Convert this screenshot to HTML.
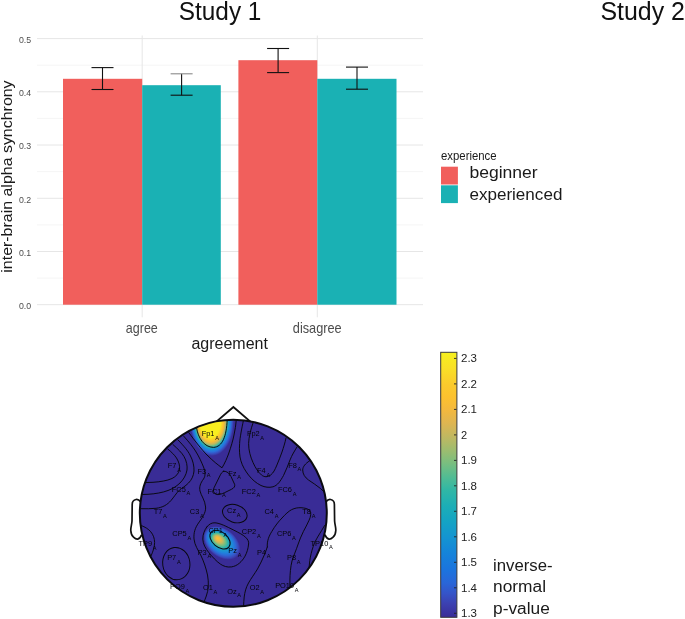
<!DOCTYPE html>
<html><head><meta charset="utf-8"><title>Figure</title>
<style>html,body{margin:0;padding:0;background:#fff;}body{width:685px;height:619px;overflow:hidden;position:relative;}svg{will-change:transform;position:absolute;left:0;top:0;display:block;}text{font-family:"Liberation Sans", sans-serif;}</style>
</head><body>
<svg width="685" height="619" viewBox="0 0 685 619">
<defs>
<linearGradient id="cb" x1="0" y1="0" x2="0" y2="1">
<stop offset="0.00" stop-color="#F6F01D"/>
<stop offset="0.06" stop-color="#F9E027"/>
<stop offset="0.12" stop-color="#FBCB2C"/>
<stop offset="0.17" stop-color="#FCC12F"/>
<stop offset="0.22" stop-color="#F2B83F"/>
<stop offset="0.27" stop-color="#DDB552"/>
<stop offset="0.32" stop-color="#BFB861"/>
<stop offset="0.37" stop-color="#9DBC6F"/>
<stop offset="0.42" stop-color="#78BE80"/>
<stop offset="0.47" stop-color="#52BC93"/>
<stop offset="0.52" stop-color="#30B7A5"/>
<stop offset="0.58" stop-color="#1CAEB6"/>
<stop offset="0.64" stop-color="#14A3C4"/>
<stop offset="0.70" stop-color="#1494D1"/>
<stop offset="0.76" stop-color="#1583DA"/>
<stop offset="0.82" stop-color="#1B74DE"/>
<stop offset="0.87" stop-color="#2966D8"/>
<stop offset="0.91" stop-color="#3554C8"/>
<stop offset="0.95" stop-color="#3C40B0"/>
<stop offset="1.00" stop-color="#392D97"/>
</linearGradient>
<radialGradient id="h1" cx="0.5" cy="0.5" r="0.5" fx="0.43" fy="0.5">
<stop offset="0.00" stop-color="#F8EE1F"/>
<stop offset="0.47" stop-color="#F8EE1F"/>
<stop offset="0.53" stop-color="#FAD42A"/>
<stop offset="0.60" stop-color="#F6BB38"/>
<stop offset="0.66" stop-color="#C4B75E"/>
<stop offset="0.71" stop-color="#6FBE84"/>
<stop offset="0.76" stop-color="#22ACB7"/>
<stop offset="0.81" stop-color="#1A90D6"/>
<stop offset="0.88" stop-color="#2A70DC"/>
<stop offset="0.94" stop-color="#384CBE"/>
<stop offset="1.00" stop-color="#392C96"/>
</radialGradient>
<radialGradient id="h2" cx="0.5" cy="0.5" r="0.5" fx="0.34" fy="0.46">
<stop offset="0.00" stop-color="#FBC42D"/>
<stop offset="0.12" stop-color="#EFB844"/>
<stop offset="0.24" stop-color="#BDB862"/>
<stop offset="0.35" stop-color="#6FBE84"/>
<stop offset="0.45" stop-color="#2DB3AA"/>
<stop offset="0.55" stop-color="#1C9ACB"/>
<stop offset="0.68" stop-color="#1F84DC"/>
<stop offset="0.80" stop-color="#2E68D6"/>
<stop offset="0.91" stop-color="#3A4ABB"/>
<stop offset="1.00" stop-color="#392C96"/>
</radialGradient>
<clipPath id="hc"><circle cx="233.3" cy="513.3" r="93.5"/></clipPath>
</defs>
<text x="178.8" y="19.5" font-size="25" fill="#111" textLength="82.6" lengthAdjust="spacingAndGlyphs">Study 1</text>
<text x="600.4" y="19.5" font-size="25" fill="#111" textLength="84.5" lengthAdjust="spacingAndGlyphs">Study 2</text>
<line x1="37" x2="423" y1="278.1" y2="278.1" stroke="#F1F1F1" stroke-width="0.7"/>
<line x1="37" x2="423" y1="224.9" y2="224.9" stroke="#F1F1F1" stroke-width="0.7"/>
<line x1="37" x2="423" y1="171.6" y2="171.6" stroke="#F1F1F1" stroke-width="0.7"/>
<line x1="37" x2="423" y1="118.4" y2="118.4" stroke="#F1F1F1" stroke-width="0.7"/>
<line x1="37" x2="423" y1="65.2" y2="65.2" stroke="#F1F1F1" stroke-width="0.7"/>
<line x1="37" x2="423" y1="304.7" y2="304.7" stroke="#E6E6E6" stroke-width="1"/>
<line x1="37" x2="423" y1="251.5" y2="251.5" stroke="#E6E6E6" stroke-width="1"/>
<line x1="37" x2="423" y1="198.3" y2="198.3" stroke="#E6E6E6" stroke-width="1"/>
<line x1="37" x2="423" y1="145.0" y2="145.0" stroke="#E6E6E6" stroke-width="1"/>
<line x1="37" x2="423" y1="91.8" y2="91.8" stroke="#E6E6E6" stroke-width="1"/>
<line x1="37" x2="423" y1="38.6" y2="38.6" stroke="#E6E6E6" stroke-width="1"/>
<line x1="142.2" x2="142.2" y1="35.5" y2="317.3" stroke="#E6E6E6" stroke-width="1"/>
<line x1="317.3" x2="317.3" y1="35.5" y2="317.3" stroke="#E6E6E6" stroke-width="1"/>
<rect x="63.0" y="78.8" width="79.2" height="225.9" fill="#F15F5C"/>
<rect x="142.2" y="85.2" width="78.6" height="219.5" fill="#1AB1B4"/>
<rect x="238.4" y="60.2" width="78.9" height="244.5" fill="#F15F5C"/>
<rect x="317.3" y="78.8" width="79.2" height="225.9" fill="#1AB1B4"/>
<line x1="102.5" x2="102.5" y1="67.6" y2="89.5" stroke="#111" stroke-width="1.1"/>
<line x1="91.5" x2="113.5" y1="67.6" y2="67.6" stroke="#111" stroke-width="1.1"/>
<line x1="91.5" x2="113.5" y1="89.5" y2="89.5" stroke="#111" stroke-width="1.1"/>
<line x1="181.6" x2="181.6" y1="73.8" y2="95.2" stroke="#111" stroke-width="1.1"/>
<line x1="170.6" x2="192.6" y1="73.8" y2="73.8" stroke="#8a8a8a" stroke-width="1.1"/>
<line x1="170.6" x2="192.6" y1="95.2" y2="95.2" stroke="#111" stroke-width="1.1"/>
<line x1="278.1" x2="278.1" y1="48.5" y2="72.6" stroke="#111" stroke-width="1.1"/>
<line x1="267.1" x2="289.1" y1="48.5" y2="48.5" stroke="#111" stroke-width="1.1"/>
<line x1="267.1" x2="289.1" y1="72.6" y2="72.6" stroke="#111" stroke-width="1.1"/>
<line x1="357.0" x2="357.0" y1="67.1" y2="89.2" stroke="#111" stroke-width="1.1"/>
<line x1="346.0" x2="368.0" y1="67.1" y2="67.1" stroke="#111" stroke-width="1.1"/>
<line x1="346.0" x2="368.0" y1="89.2" y2="89.2" stroke="#111" stroke-width="1.1"/>
<text x="18.9" y="309.0" font-size="9.8" fill="#4D4D4D" textLength="12.2" lengthAdjust="spacingAndGlyphs">0.0</text>
<text x="18.9" y="255.8" font-size="9.8" fill="#4D4D4D" textLength="12.2" lengthAdjust="spacingAndGlyphs">0.1</text>
<text x="18.9" y="202.6" font-size="9.8" fill="#4D4D4D" textLength="12.2" lengthAdjust="spacingAndGlyphs">0.2</text>
<text x="18.9" y="149.3" font-size="9.8" fill="#4D4D4D" textLength="12.2" lengthAdjust="spacingAndGlyphs">0.3</text>
<text x="18.9" y="96.1" font-size="9.8" fill="#4D4D4D" textLength="12.2" lengthAdjust="spacingAndGlyphs">0.4</text>
<text x="18.9" y="42.9" font-size="9.8" fill="#4D4D4D" textLength="12.2" lengthAdjust="spacingAndGlyphs">0.5</text>
<text x="125.8" y="332.7" font-size="14.1" fill="#4D4D4D" textLength="32" lengthAdjust="spacingAndGlyphs">agree</text>
<text x="292.8" y="332.6" font-size="14.1" fill="#4D4D4D" textLength="48.9" lengthAdjust="spacingAndGlyphs">disagree</text>
<text x="191.4" y="349.4" font-size="17.3" fill="#1a1a1a" textLength="76.6" lengthAdjust="spacingAndGlyphs">agreement</text>
<text transform="translate(12,272.7) rotate(-90)" font-size="14.4" fill="#1a1a1a" textLength="192.3" lengthAdjust="spacingAndGlyphs">inter-brain alpha synchrony</text>
<text x="441" y="159.7" font-size="12.6" fill="#1a1a1a" textLength="55.6" lengthAdjust="spacingAndGlyphs">experience</text>
<rect x="441" y="166.7" width="16.9" height="17.8" fill="#F15F5C"/>
<rect x="441" y="185.3" width="16.9" height="17.8" fill="#1AB1B4"/>
<text x="469.4" y="177.7" font-size="15.8" fill="#1a1a1a" textLength="68.3" lengthAdjust="spacingAndGlyphs">beginner</text>
<text x="469.4" y="199.6" font-size="15.8" fill="#1a1a1a" textLength="93" lengthAdjust="spacingAndGlyphs">experienced</text>
<rect x="440.7" y="352.3" width="16.2" height="265" fill="url(#cb)" stroke="#3a3a3a" stroke-width="1"/>
<line x1="454" x2="456.5" y1="358.4" y2="358.4" stroke="#222" stroke-width="0.9"/>
<text x="461" y="362.3" font-size="11" fill="#222" textLength="16" lengthAdjust="spacingAndGlyphs">2.3</text>
<line x1="454" x2="456.5" y1="383.9" y2="383.9" stroke="#222" stroke-width="0.9"/>
<text x="461" y="387.8" font-size="11" fill="#222" textLength="16" lengthAdjust="spacingAndGlyphs">2.2</text>
<line x1="454" x2="456.5" y1="409.4" y2="409.4" stroke="#222" stroke-width="0.9"/>
<text x="461" y="413.3" font-size="11" fill="#222" textLength="16" lengthAdjust="spacingAndGlyphs">2.1</text>
<line x1="454" x2="456.5" y1="434.9" y2="434.9" stroke="#222" stroke-width="0.9"/>
<text x="461" y="438.8" font-size="11" fill="#222">2</text>
<line x1="454" x2="456.5" y1="460.4" y2="460.4" stroke="#222" stroke-width="0.9"/>
<text x="461" y="464.3" font-size="11" fill="#222" textLength="16" lengthAdjust="spacingAndGlyphs">1.9</text>
<line x1="454" x2="456.5" y1="485.8" y2="485.8" stroke="#222" stroke-width="0.9"/>
<text x="461" y="489.7" font-size="11" fill="#222" textLength="16" lengthAdjust="spacingAndGlyphs">1.8</text>
<line x1="454" x2="456.5" y1="511.3" y2="511.3" stroke="#222" stroke-width="0.9"/>
<text x="461" y="515.2" font-size="11" fill="#222" textLength="16" lengthAdjust="spacingAndGlyphs">1.7</text>
<line x1="454" x2="456.5" y1="536.8" y2="536.8" stroke="#222" stroke-width="0.9"/>
<text x="461" y="540.7" font-size="11" fill="#222" textLength="16" lengthAdjust="spacingAndGlyphs">1.6</text>
<line x1="454" x2="456.5" y1="562.3" y2="562.3" stroke="#222" stroke-width="0.9"/>
<text x="461" y="566.2" font-size="11" fill="#222" textLength="16" lengthAdjust="spacingAndGlyphs">1.5</text>
<line x1="454" x2="456.5" y1="587.8" y2="587.8" stroke="#222" stroke-width="0.9"/>
<text x="461" y="591.7" font-size="11" fill="#222" textLength="16" lengthAdjust="spacingAndGlyphs">1.4</text>
<line x1="454" x2="456.5" y1="613.3" y2="613.3" stroke="#222" stroke-width="0.9"/>
<text x="461" y="617.2" font-size="11" fill="#222" textLength="16" lengthAdjust="spacingAndGlyphs">1.3</text>
<text x="493" y="570.7" font-size="15.8" fill="#1a1a1a" textLength="59.6" lengthAdjust="spacingAndGlyphs">inverse-</text>
<text x="493" y="592.4" font-size="15.8" fill="#1a1a1a" textLength="53" lengthAdjust="spacingAndGlyphs">normal</text>
<text x="493" y="614" font-size="15.8" fill="#1a1a1a" textLength="56.8" lengthAdjust="spacingAndGlyphs">p-value</text>
<path d="M216.4 421.6 L233.4 407 L250.4 421.6" fill="none" stroke="#111" stroke-width="1.9" stroke-linejoin="miter"/>
<path d="M140.3 501.6 C139 499.6 137.5 499.3 136 499.5 C133.3 500 132.2 502 132.2 504.5 L132 521 C131.7 525 130.6 527.5 130.8 530.5 C131 534 132 536 133.5 537.2 C135 538.6 136.5 539.3 137.6 539.1 C139.2 538.8 140.3 538 141.8 534.7" fill="#fff" stroke="#111" stroke-width="1.7"/>
<path d="M326.3 501.6 C327.6 499.6 329.1 499.3 330.6 499.5 C333.3 500 334.4 502 334.4 504.5 L334.6 521 C334.9 525 336 527.5 335.8 530.5 C335.6 534 334.6 536 333.1 537.2 C331.6 538.6 330.1 539.3 329 539.1 C327.4 538.8 326.3 538 324.8 534.7" fill="#fff" stroke="#111" stroke-width="1.7"/>
<circle cx="233.3" cy="513.3" r="93.5" fill="#392C96"/>
<g clip-path="url(#hc)">
<ellipse cx="212" cy="421" rx="22" ry="35" fill="url(#h1)"/>
<g transform="translate(222,543) rotate(38)"><ellipse cx="0" cy="0" rx="20.5" ry="14" fill="url(#h2)"/></g>
<g fill="none" stroke="#08080e" stroke-width="0.95" stroke-linecap="round">
<path d="M196.5 427.5 C198 438 204 447.2 213.5 447.4 C222.5 447 226.5 436 227.2 420"/>
<path d="M188.7 432.5 C195 441 202 450 207 455 C213 461 218 465 222 467.8 C225 463 227 458 228.5 454 C231 447 233 440 234 435 C235 430 236 425 236.3 420"/>
<path d="M183.6 436 C189 442 193 447 195.5 451 C199 456.5 201.5 462 203.5 467 C205.5 472 205.5 476 203.5 479 C200.5 483 199 487 200 491 C201 495.5 205 500 205.6 507 C206 513 202 518 198.5 523 C195 528 193.5 533 194 539 C194.6 545 198 550 200.7 555 C204 562 206 568 207.5 575 C209 583 208.5 590 206.3 596 C205.5 598.5 204.5 600.5 204 602"/>
<path d="M178 440 C184 446 188 451 190 455 C193 460.5 194.2 466 194 471 C193.6 476 191.5 480 188.5 483 C185 486.5 182 488 179.5 490 C176 493.5 174 497 171 500.5 C167.5 504.5 163 507.5 156 508.3 C151 508.8 146 508.8 141 508.7"/>
<path d="M172.9 444.5 C178 449 182 453 184 456.5 C186.6 461 187.5 466 187 470 C186.2 475 183.5 479.5 180 483 C176 486.8 172 489 168 490.5 C162 492.8 155 493.8 148 494.3 L141.5 494.5"/>
<path d="M167.8 449 C171.5 452 174.5 455 176.5 458 C179 462 180 466 179.5 469.5 C178.8 473.5 176 476.5 172 478.5 C167 480.8 160 481.8 153 482.3 L145 482.6"/>
<path d="M243.5 420 C241.5 430 240 437 239.6 443.5 C239.2 450 239.5 456 240.8 460.5 C242.5 466.5 245.5 471 248.5 475 C252 479.5 256 483 261 485.5 C265 487.3 269 487.8 273 486.8 C277.5 485.5 280.5 481 283.5 475.5 C286 470.5 288 465 290 460 C292 455 294.5 451 297 447"/>
<path d="M253.7 421 C250.5 430 248.8 437 248.6 443.5 C248.5 450 250.5 457 253 462.5 C255.5 468 258 472 261.5 475 C264.5 477.3 267.5 477.3 270.7 475 C273.5 472.8 275 469.5 276.5 466 C278.5 461 280.5 456.5 282 452 C283.5 447.5 285 443 286 438"/>
<path d="M223.7 471.2 C222.3 471.4 221 473.5 219.8 476 L214 487.8 C212.8 490.5 213.5 493.2 216 494.3 C218.5 495.2 221.5 494 224.5 492.7 L231.5 489.3 C234 488 235.3 486.5 234.6 484.3 L231 476.5 C229.5 473.5 227 471 223.7 471.2 Z"/>
<path d="M309.3 461 C305.5 463.5 302.8 466.5 302.7 470 C302.7 474 305 477.5 308.5 480 C312.5 482.8 317 485.5 320.5 488.5 C322.5 490.2 324 491.8 325.2 493.5"/>
<path d="M267.3 547 C266.8 541 269 536 271.8 531.5 C275 526 278.5 521.5 282 518 C285.5 514.2 288.5 511.3 291.5 509.7 C295 508 298 507.6 301 507.7 C304.5 507.9 307.8 508.6 309.8 510.5 C311.5 512.5 310.8 516.5 309.1 520.2 C307.3 524.2 305.2 528 303.4 531.5 C301.2 536 299.5 540 298.2 544 C296 550.5 293.5 556 292 561 C290.5 567 290 574 289.9 580 L289.9 588"/>
<path d="M267.3 547 C266.5 549.5 265.5 552 264.5 554.5 C262.5 559.5 260 564.5 257.5 569 C254.5 574 251 578.5 248.5 583 C246 587.5 244.8 592 244.2 597 C243.8 600.5 243.7 603 243.6 606"/>
<path d="M324.6 525.5 C322.5 529 320.5 532.5 318.2 536.1 C316 539.8 314.3 543 313.2 546.5 C311.5 551.5 310.5 556 309.8 560.5 L309 568"/>
<path d="M141.5 525.6 C145 527 148.5 529 150.8 531.8 C153.3 534.8 154.6 538.5 154.6 542.5 C154.6 547 153 551.5 151 556"/>
<ellipse cx="176.3" cy="563.6" rx="13.6" ry="16.2" transform="rotate(-8 176.3 563.6)"/>
<ellipse cx="234.8" cy="513.6" rx="12.6" ry="8.8" transform="rotate(18 234.8 513.6)"/>
<path d="M206.8 527 C209 524 212 522.6 215 522.8 C220 523.2 226 526.2 233.9 530.2 C239 532.8 243 534.8 245.5 537.2 C248 539.6 248.9 541.5 248.6 544 C248.2 548.5 247 552.5 245 556.2 C242 561.5 237.5 566 231.5 566.9 C227 567.5 223.5 566.2 220.4 564.1 C216 561 212.5 557 209 552.8 C205.5 548.5 203 544 202.8 539.2 C202.7 534.5 204.5 530 206.8 527 Z"/>
<ellipse cx="220" cy="539.6" rx="11.6" ry="7.6" transform="rotate(40 220 539.6)" stroke-width="1"/>
</g>
</g>
<circle cx="233.3" cy="513.3" r="93.5" fill="none" stroke="#0b0b10" stroke-width="2"/>
<g fill="#05050a" font-size="7.4">
<text x="201.7" y="435.9">Fp1<tspan font-size="5.6" dx="0.7" dy="3.7">A</tspan></text>
<text x="246.9" y="435.9">Fp2<tspan font-size="5.6" dx="0.7" dy="3.7">A</tspan></text>
<text x="167.8" y="468.0">F7<tspan font-size="5.6" dx="0.7" dy="3.7">A</tspan></text>
<text x="197.5" y="473.5">F3<tspan font-size="5.6" dx="0.7" dy="3.7">A</tspan></text>
<text x="228.3" y="475.5">Fz<tspan font-size="5.6" dx="0.7" dy="3.7">A</tspan></text>
<text x="257.1" y="473.2">F4<tspan font-size="5.6" dx="0.7" dy="3.7">A</tspan></text>
<text x="288.2" y="467.6">F8<tspan font-size="5.6" dx="0.7" dy="3.7">A</tspan></text>
<text x="171.8" y="491.7">FC5<tspan font-size="5.6" dx="0.7" dy="3.7">A</tspan></text>
<text x="207.4" y="493.7">FC1<tspan font-size="5.6" dx="0.7" dy="3.7">A</tspan></text>
<text x="241.8" y="493.7">FC2<tspan font-size="5.6" dx="0.7" dy="3.7">A</tspan></text>
<text x="278.0" y="492.0">FC6<tspan font-size="5.6" dx="0.7" dy="3.7">A</tspan></text>
<text x="153.7" y="513.8">T7<tspan font-size="5.6" dx="0.7" dy="3.7">A</tspan></text>
<text x="189.8" y="513.8">C3<tspan font-size="5.6" dx="0.7" dy="3.7">A</tspan></text>
<text x="227.1" y="513.4">Cz<tspan font-size="5.6" dx="0.7" dy="3.7">A</tspan></text>
<text x="264.5" y="514.0">C4<tspan font-size="5.6" dx="0.7" dy="3.7">A</tspan></text>
<text x="302.3" y="514.0">T8<tspan font-size="5.6" dx="0.7" dy="3.7">A</tspan></text>
<text x="138.5" y="546.0">TP9<tspan font-size="5.6" dx="0.7" dy="3.7">A</tspan></text>
<text x="172.3" y="536.0">CP5<tspan font-size="5.6" dx="0.7" dy="3.7">A</tspan></text>
<text x="208.5" y="533.0">CP1<tspan font-size="5.6" dx="0.7" dy="3.7">A</tspan></text>
<text x="241.8" y="533.9">CP2<tspan font-size="5.6" dx="0.7" dy="3.7">A</tspan></text>
<text x="276.9" y="536.1">CP6<tspan font-size="5.6" dx="0.7" dy="3.7">A</tspan></text>
<text x="310.6" y="545.6">TP10<tspan font-size="5.6" dx="0.7" dy="3.7">A</tspan></text>
<text x="167.2" y="559.8">P7<tspan font-size="5.6" dx="0.7" dy="3.7">A</tspan></text>
<text x="197.7" y="554.5">P3<tspan font-size="5.6" dx="0.7" dy="3.7">A</tspan></text>
<text x="228.3" y="553.4">Pz<tspan font-size="5.6" dx="0.7" dy="3.7">A</tspan></text>
<text x="257.1" y="554.5">P4<tspan font-size="5.6" dx="0.7" dy="3.7">A</tspan></text>
<text x="287.0" y="559.8">P8<tspan font-size="5.6" dx="0.7" dy="3.7">A</tspan></text>
<text x="170.0" y="589.0">PO9<tspan font-size="5.6" dx="0.7" dy="3.7">A</tspan></text>
<text x="202.9" y="590.3">O1<tspan font-size="5.6" dx="0.7" dy="3.7">A</tspan></text>
<text x="227.2" y="593.7">Oz<tspan font-size="5.6" dx="0.7" dy="3.7">A</tspan></text>
<text x="249.8" y="590.3">O2<tspan font-size="5.6" dx="0.7" dy="3.7">A</tspan></text>
<text x="275.2" y="588.0">PO10<tspan font-size="5.6" dx="0.7" dy="3.7">A</tspan></text>
</g>
</svg></body></html>
